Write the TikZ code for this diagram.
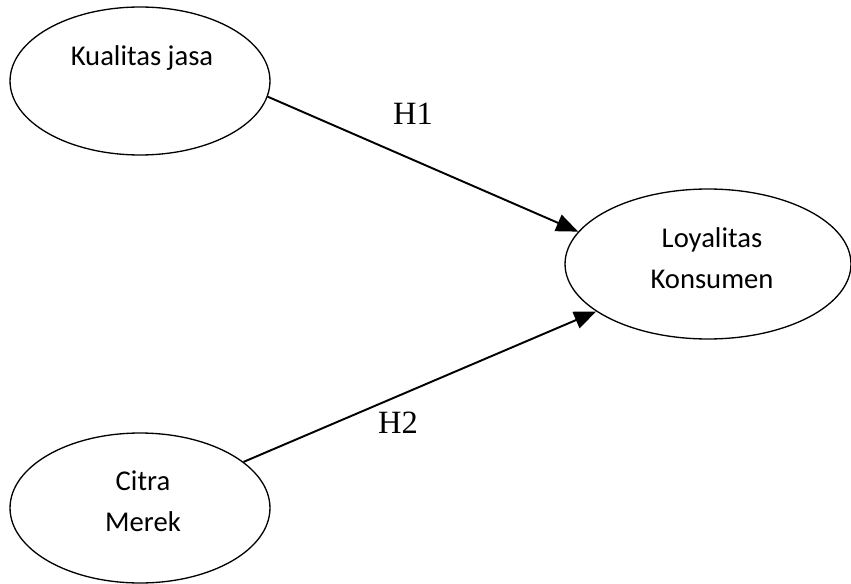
\documentclass[tikz,border=0pt]{standalone}
\usepackage{fontspec}
\setmainfont{Carlito}
\newfontfamily\hfont{Liberation Serif}
\usetikzlibrary{positioning, shapes.geometric, arrows.meta}

\begin{document}
\begin{tikzpicture}[x=0.02cm, y=-0.02cm, >={Triangle[length=12.5pt, width=10pt]},
	varnode/.style={draw, ellipse, line width=0.75pt, inner sep=0pt},
	vartext/.style={align=center, font=\fontsize{16.3}{23.5}\selectfont},
	hyptext/.style={font=\hfont\fontsize{18.5}{22}\selectfont},
	hyplink/.style={->, line width=1.1pt}]
	\useasboundingbox (0, 0) rectangle (851, 584);

	\node[varnode, minimum width=5.2cm, minimum height=2.96cm] (kualitas) at (140, 81) {};
	\node[varnode, minimum width=5.72cm, minimum height=3.0cm] (loyalitas) at (708, 264) {};
	\node[varnode, minimum width=5.2cm, minimum height=3.0cm] (citra) at (140, 508) {};

	\node[vartext] (kualitastext) at (142, 58) {Kualitas jasa};
	\node[vartext] (loyalitastext) at (712, 258) {Loyalitas\\Konsumen};
	\node[vartext] (citratext) at (143, 501) {Citra\\Merek};

	\draw [hyplink] (kualitas.-7) -- (loyalitas.166);
	\draw [hyplink] (citra.24) -- (loyalitas.-157);

	\node[hyptext] (h1) at (413, 114) {H1};
	\node[hyptext] (h2) at (398, 423) {H2};
\end{tikzpicture}
\end{document}
